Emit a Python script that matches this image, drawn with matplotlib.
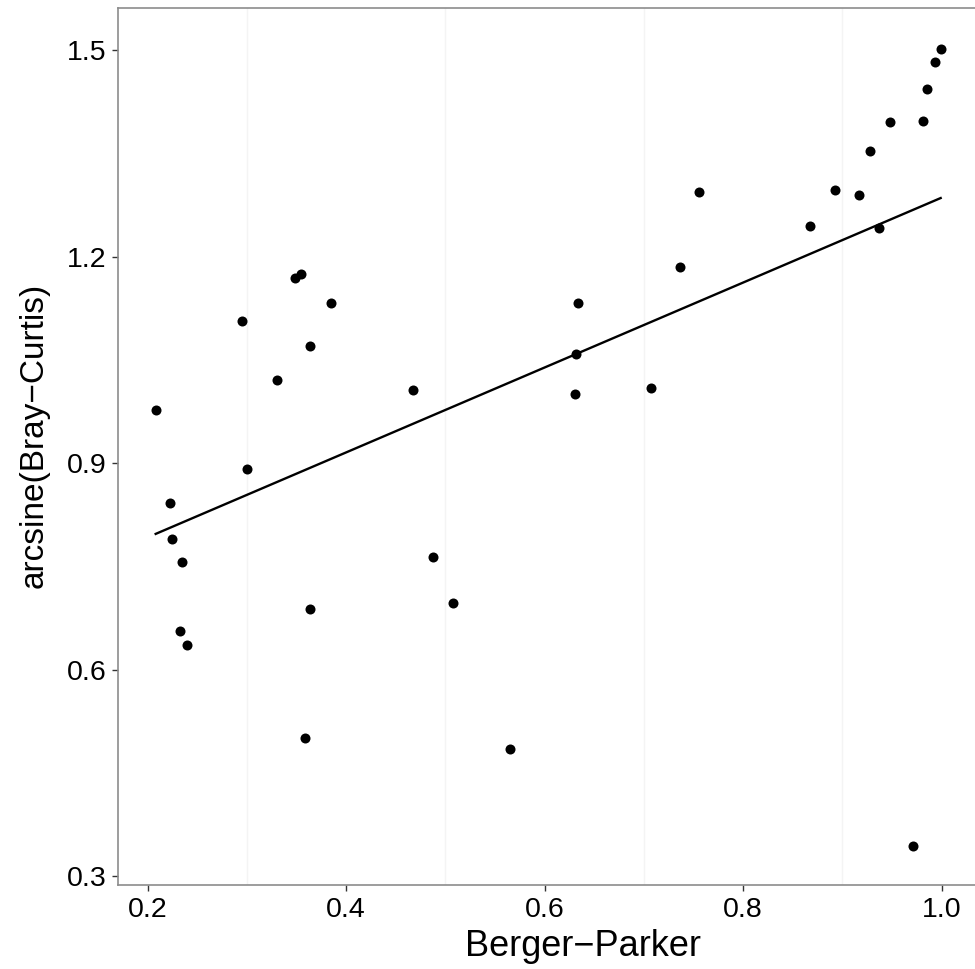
import matplotlib
matplotlib.use('Agg')
import matplotlib.pyplot as plt
import numpy as np

plt.rcParams['font.family'] = ['Liberation Sans', 'DejaVu Sans']

# Berger-Parker index vs arcsine(Bray-Curtis)
berger_parker = [
    0.208, 0.295, 0.348, 0.354, 0.385, 0.363, 0.330, 0.467, 0.300,
    0.222, 0.224, 0.235, 0.232, 0.240, 0.364, 0.358, 0.487, 0.508,
    0.565, 0.971,
    0.634, 0.632, 0.631, 0.707, 0.736, 0.755, 0.867, 0.893, 0.917,
    0.937, 0.928, 0.948, 0.981, 0.985, 0.993, 0.999,
]
arcsine_bc = [
    0.977, 1.106, 1.169, 1.175, 1.133, 1.070, 1.020, 1.006, 0.892,
    0.842, 0.790, 0.756, 0.656, 0.636, 0.688, 0.500, 0.763, 0.696,
    0.484, 0.344,
    1.133, 1.059, 1.001, 1.009, 1.185, 1.294, 1.244, 1.296, 1.290,
    1.241, 1.353, 1.395, 1.397, 1.444, 1.482, 1.502,
]
x_ticks = [0.2, 0.4, 0.6, 0.8, 1.0]
y_ticks = [0.3, 0.6, 0.9, 1.2, 1.5]

x = np.array(berger_parker)
y = np.array(arcsine_bc)

fig = plt.figure(figsize=(9.75, 9.69), dpi=100)
ax = fig.add_axes([0.121, 0.0867, 0.885, 0.905])

# faint minor grid as in theme_bw
for v in [0.3, 0.5, 0.7, 0.9]:
    ax.axvline(v, color='#f4f4f4', lw=1, zorder=0)

ax.scatter(x, y, s=52, color='black', zorder=3, linewidths=0)

# linear fit (geom_smooth, method = lm)
slope, intercept = np.polyfit(x, y, 1)
xs = np.array([x.min(), x.max()])
ax.plot(xs, intercept + slope * xs, color='black', lw=1.7, zorder=2)

ax.set_xlim(0.170, 1.0395)
ax.set_ylim(0.287, 1.561)
ax.set_xticks(x_ticks)
ax.set_xticklabels(['0.2', '0.4', '0.6', '0.8', '1.0'])
ax.set_yticks(y_ticks)
ax.set_yticklabels(['0.3', '0.6', '0.9', '1.2', '1.5'])
ax.tick_params(axis='both', labelsize=20.5, length=4.5, width=1,
               color='#333333', labelcolor='black', pad=4)

for side in ['left', 'bottom', 'top', 'right']:
    ax.spines[side].set_color('#8c8c8c')
    ax.spines[side].set_linewidth(1.2)

fig.text(583 / 975, 1 - 946 / 969, 'Berger\u2212Parker', fontsize=26,
         ha='center', va='center')
fig.text(34 / 975, 1 - 435 / 969, 'arcsine(Bray\u2212Curtis)', fontsize=24,
         ha='center', va='center', rotation=90)

fig.savefig('out.png', dpi=100)
